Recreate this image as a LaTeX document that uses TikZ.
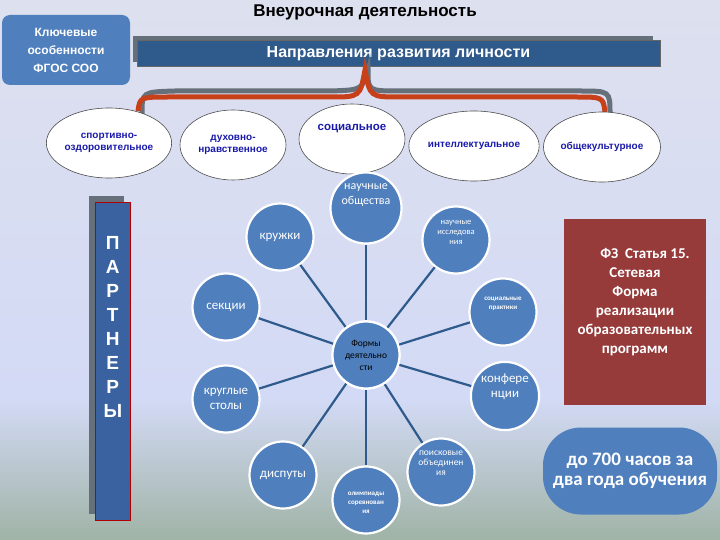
\documentclass[tikz,border=0pt]{standalone}
\usepackage{fontspec}
\setmainfont{Liberation Sans}
\newfontfamily\carl{Carlito}
\usetikzlibrary{shapes.geometric}
\definecolor{bgtop}{HTML}{DDE0EE}
\definecolor{bgmid}{HTML}{D3DAF5}
\definecolor{bgbot}{HTML}{9FB3A6}
\definecolor{cblue}{HTML}{4F7FBD}
\definecolor{dblue}{HTML}{2F5A8C}
\definecolor{pblue}{HTML}{3A62A0}
\definecolor{bred}{HTML}{963A3A}
\definecolor{bgray}{HTML}{66707A}
\definecolor{navy}{HTML}{1A1AAA}
\definecolor{brace}{HTML}{C8401A}
\tikzset{
  form/.style={circle,fill=cblue,draw=white,line width=2.2pt,minimum size=67pt,inner sep=1pt,align=center,text=white,font=\carl\fontsize{12}{15}\selectfont},
  dir/.style={ellipse,fill=white,draw=black!70,line width=0.6pt,minimum width=106pt,minimum height=70pt,inner sep=0pt,align=center,text=navy,font=\bfseries\fontsize{10}{12}\selectfont},
  spoke/.style={draw=dblue,line width=2.2pt}
}
\begin{document}
\begin{tikzpicture}[x=1pt,y=-1pt]
\shade[top color=bgtop,bottom color=bgmid] (0,0) rectangle (720,400);
\shade[top color=bgmid,bottom color=bgbot] (0,400) rectangle (720,540);
\useasboundingbox (0,0) rectangle (720,540);
% title
\node (title) at (365,12) {\bfseries\fontsize{17}{19}\selectfont Внеурочная деятельность};
% key box
\node[fill=cblue,rounded corners=8pt,minimum width=128pt,minimum height=70pt,align=center,text=white,font=\bfseries\fontsize{12}{18}\selectfont] (key) at (66,50) {Ключевые\\особенности\\ФГОС СОО};
% banner
\fill[bgray] (133,36) rectangle (653,62);
\node[fill=dblue,draw=black!60,minimum width=523pt,minimum height=26pt,text=white,font=\bfseries\fontsize{16}{18}\selectfont] (ban) at (398.5,53.5) {Направления развития личности};
% brace
\coordinate (bl) at (138,111);
\coordinate (br) at (605,112);
\coordinate (btop) at (365,70);
\draw[bgray,line width=5pt] ([xshift=4pt,yshift=-3pt]bl) .. controls (142,92) .. (175,91) -- (330,91) .. controls (362,90) .. ([xshift=3pt]btop) .. controls (368,91) .. (400,91) -- (580,91) .. controls (610,91) .. ([xshift=5pt,yshift=-2pt]br);
\draw[brace,line width=5pt] (bl) .. controls (140,97) .. (170,97) -- (330,97) .. controls (360,97) .. (btop) .. controls (370,97) .. (400,97) -- (575,97) .. controls (603,97) .. (br);
% directions
\node[dir] (d1) at (109,143) {спортивно-\\оздоровительное};
\node[dir] (d2) at (233,145) {духовно-\\нравственное};
\node[dir,font=\bfseries\fontsize{11.5}{13}\selectfont] (d3) at (352,139) {социальное\\[10pt]};
\node[dir] (d4) at (474,146) {интеллектуальное};
\node[dir] (d5) at (602,147) {общекультурное};
% partners
\fill[bgray] (89,196) rectangle (124,514);
\node[fill=pblue,draw=red!70!black,line width=0.6pt,minimum width=35pt,minimum height=318pt,align=center,text=white,font=\bfseries\fontsize{19}{24}\selectfont,anchor=north west] (part) at (95,202) {П\\А\\Р\\Т\\Н\\Е\\Р\\Ы\\[44pt]};
% forms
\node[form] (c) at (366,355) {};
\node[form] (f1) at (366,208) {научные\\общества\\[12pt]};
\node[form,font=\carl\fontsize{8.5}{10}\selectfont] (f2) at (456,240) {научные\\исследова\\ния\\[6pt]};
\node[form,font=\carl\bfseries\fontsize{7}{9}\selectfont] (f3) at (503,312) {социальные\\практики\\[8pt]};
\node[form,font=\carl\fontsize{13}{15}\selectfont] (f4) at (505,396) {конфере\\нции\\[6pt]};
\node[form,font=\carl\fontsize{9.5}{10}\selectfont] (f5) at (441,472) {поисковые\\объединен\\ия\\[8pt]};
\node[form,font=\carl\bfseries\fontsize{7}{9}\selectfont] (f6) at (366,500) {\\олимпиады\\соревнован\\ия};
\node[form,font=\carl\fontsize{13}{15}\selectfont] (f7) at (283,475) {диспуты};
\node[form,font=\carl\fontsize{13}{15}\selectfont] (f8) at (226,399) {круглые\\столы};
\node[form,font=\carl\fontsize{13}{15}\selectfont] (f9) at (226,307) {секции};
\node[form,font=\carl\fontsize{13}{15}\selectfont] (f10) at (280,237) {кружки};
\foreach \f in {f1,f2,f3,f4,f5,f6,f7,f8,f9,f10} \draw[spoke] (c) -- (\f);
\node[form,font=\carl\fontsize{9.5}{12}\selectfont,text=black] at (366,355) {Формы\\деятельно\\сти};
% red box
\node[fill=bred,minimum width=142pt,minimum height=186pt,text=white,align=center,font=\carl\bfseries\fontsize{15}{19}\selectfont] (fz) at (635,312) {\hspace*{20pt}ФЗ\ \ Статья 15.\\Сетевая\\Форма\\реализации\\образовательных\\программ\\[4pt]};
% hours
\node[fill=cblue,rounded corners=38pt,minimum width=174pt,minimum height=87pt,text=white,align=center,font=\carl\bfseries\fontsize{19}{20}\selectfont] (hrs) at (630,471) {до 700 часов за\\два года обучения};
\end{tikzpicture}
\end{document}
